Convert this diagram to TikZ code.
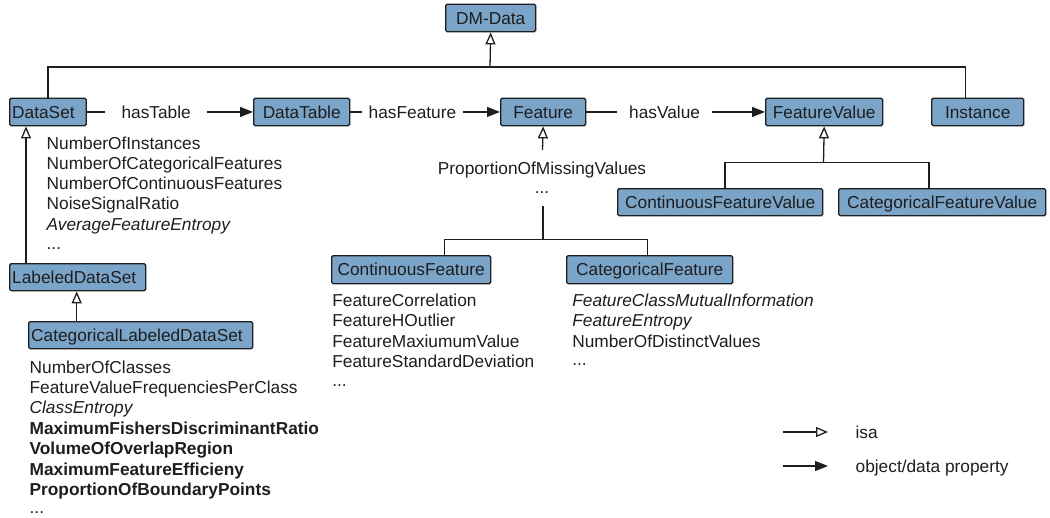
\documentclass[tikz,border=0pt]{standalone}
\usepackage{fontspec}
\setmainfont{Liberation Sans}
\usetikzlibrary{arrows.meta}
\definecolor{boxfill}{HTML}{7BA4C9}
\definecolor{ink}{HTML}{1E1E1E}
\begin{document}
\begin{tikzpicture}[x=1pt,y=-1pt,
  font=\fontsize{17.3}{20.3}\selectfont,
  line width=1.3pt, draw=ink, text=ink,
  box/.style={draw=ink, fill=boxfill, line width=1.4pt, rounded corners=1.5pt,
    inner sep=0pt, text height=12.4pt, text depth=0pt, anchor=north west},
  lbox/.style={box, align=left, inner xsep=2.5pt},
  isa/.style={-{Triangle[open,length=12pt,width=10pt]}},
  prop/.style={-{Triangle[length=13pt,width=10pt]}},
  lab/.style={fill=white, inner ysep=2pt},
  attr/.style={anchor=base west, inner sep=0pt},
  cattr/.style={anchor=base, inner sep=0pt}]
\useasboundingbox (0,0) rectangle (1050,517);

% boxes
\node[box, minimum width=90pt, minimum height=27.5pt] (dm) at (445,3.5) {DM-Data};
\node[lbox, text width=71.5pt, minimum height=27.5pt] (ds) at (9,97.5) {DataSet};
\node[box, minimum width=96pt, minimum height=27.5pt] (dt) at (253,97.5) {DataTable};
\node[box, minimum width=85pt, minimum height=27.5pt] (ft) at (500,97.5) {Feature};
\node[box, minimum width=117pt, minimum height=27.5pt] (fv) at (765,97.5) {FeatureValue};
\node[box, minimum width=92pt, minimum height=27.5pt] (inst) at (931,97.5) {Instance};
\node[lbox, text width=131pt, minimum height=27pt] (lds) at (9,263) {LabeledDataSet};
\node[lbox, text width=219pt, minimum height=27pt] (clds) at (28,321) {CategoricalLabeledDataSet};
\node[box, minimum width=159pt, minimum height=28pt] (cfeat) at (331,255) {ContinuousFeature};
\node[box, minimum width=166pt, minimum height=28pt] (catf) at (566,255) {CategoricalFeature};
\node[box, minimum width=205pt, minimum height=27pt] (cfv) at (617,188) {ContinuousFeatureValue};
\node[box, minimum width=207pt, minimum height=27pt] (catfv) at (838,188) {CategoricalFeatureValue};

% top isa tree
\coordinate (topj) at (490,67);
\draw[isa] (topj) -- (dm.south);
\draw (ds.north) |- (topj) -| ([xshift=-12pt]inst.north);

% properties
\draw[prop] (ds) -- node[lab, pos=0.417, inner xsep=16.2pt] (lhas1) {hasTable} (dt);
\draw[prop] (dt) -- node[lab, pos=0.415, inner xsep=6.3pt] (lhas2) {hasFeature} (ft);
\draw[prop] (ft) -- node[lab, pos=0.438, inner xsep=12pt] (lhas3) {hasValue} (fv);

% DataSet attributes
\node[attr] (a1) at (46,149) {NumberOfInstances};
\node[attr] (a2) at (46,169.3) {NumberOfCategoricalFeatures};
\node[attr] (a3) at (46,189.6) {NumberOfContinuousFeatures};
\node[attr] (a4) at (46,209.9) {NoiseSignalRatio};
\node[attr] (a5) at (46,230.2) {\itshape AverageFeatureEntropy};
\node[attr] (a6) at (46,249.5) {...};

% LabeledDataSet isa
\draw[isa] ([xshift=17pt]lds.north west) -- ([xshift=17pt]ds.south west);
\draw[isa] ([xshift=48.7pt]clds.north west) -- ([xshift=67.7pt]lds.south west);

% CategoricalLabeledDataSet attributes
\node[attr] (b1) at (29,373) {NumberOfClasses};
\node[attr] (b2) at (29,393.4) {FeatureValueFrequenciesPerClass};
\node[attr] (b3) at (29,413.9) {\itshape ClassEntropy};
\node[attr] (b4) at (29,434.3) {\bfseries MaximumFishersDiscriminantRatio};
\node[attr] (b5) at (29,454.7) {\bfseries VolumeOfOverlapRegion};
\node[attr] (b6) at (29,475.2) {\bfseries MaximumFeatureEfficieny};
\node[attr] (b7) at (29,495.6) {\bfseries ProportionOfBoundaryPoints};
\node[attr] (b8) at (29,513) {...};

% Feature attributes and subtree
\node[cattr] (pmv) at (542,174.5) {ProportionOfMissingValues};
\node[cattr] (pdots) at (542,193.5) {...};
\coordinate (fpj) at (542.5,150);
\draw[isa] (fpj) -- (ft.south);
\coordinate (fj1) at (543,206);
\coordinate (fj2) at (543,239.5);
\draw (fj1) -- (fj2);
\draw ([xshift=33.5pt]cfeat.north) |- (fj2) -| ([xshift=-2.3pt]catf.north);

% ContinuousFeature attributes
\node[attr] (c1) at (331.7,306) {FeatureCorrelation};
\node[attr] (c2) at (331.7,326.6) {FeatureHOutlier};
\node[attr] (c3) at (331.7,347.2) {FeatureMaxiumumValue};
\node[attr] (c4) at (331.7,367.8) {FeatureStandardDeviation};
\node[attr] (c5) at (331.7,386.5) {...};

% CategoricalFeature attributes
\node[attr] (d1) at (571.7,306) {\itshape FeatureClassMutualInformation};
\node[attr] (d2) at (571.7,326.6) {\itshape FeatureEntropy};
\node[attr] (d3) at (571.7,347.2) {NumberOfDistinctValues};
\node[attr] (d4) at (571.7,365.8) {...};

% FeatureValue subtree
\coordinate (vj) at (823.5,162.5);
\draw[isa] (vj) -- (fv.south);
\draw ([xshift=4.8pt]cfv.north) |- (vj) -| ([xshift=-13.2pt]catfv.north);

% legend
\coordinate (l1a) at (783,432);
\coordinate (l1b) at (828,432);
\coordinate (l2a) at (783,466);
\coordinate (l2b) at (828,466);
\draw[isa] (l1a) -- (l1b);
\draw[prop] (l2a) -- (l2b);
\node[attr] (lisa) at (855,438) {isa};
\node[attr] (lprop) at (855,472) {object/data property};
\end{tikzpicture}
\end{document}
